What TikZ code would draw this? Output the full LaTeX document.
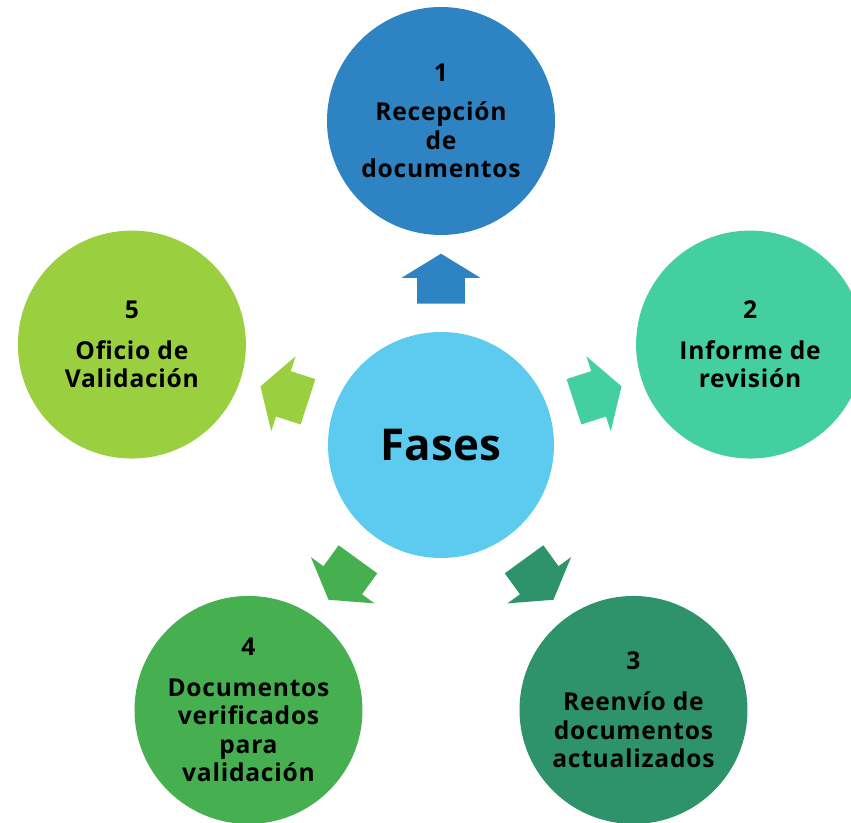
\documentclass[tikz,border=0pt]{standalone}
\usepackage{fontspec}
\setmainfont{Open Sans}
\usetikzlibrary{shapes.arrows}

\definecolor{cazul}{RGB}{46,131,194}
\definecolor{cturq}{RGB}{68,207,160}
\definecolor{cverdeosc}{RGB}{46,147,106}
\definecolor{cverde}{RGB}{70,176,80}
\definecolor{clima}{RGB}{154,207,64}
\definecolor{ccielo}{RGB}{93,202,240}

\begin{document}
\begin{tikzpicture}[
	fase/.style={circle, minimum size=4.56cm, inner sep=0pt, align=center,
		font=\fontsize{14}{16.2}\selectfont\bfseries\addfontfeatures{LetterSpace=3}},
	flecha/.style={single arrow, minimum height=1cm, inner xsep=0pt, inner ysep=0.47cm,
		single arrow head extend=0.31cm, single arrow tip angle=117}
	]
	\clip (-8.82,8.9) rectangle (8.2,-7.56);
	% centro
	\node[circle, fill=ccielo, minimum size=4.52cm] (fases) at (0,0)
		{\fontsize{25}{30}\selectfont\bfseries Fases};
	% fases
	\node[fase, fill=cazul] (recepcion) at (90:6.48)
		{1\\[6pt]Recepción\\de\\documentos};
	\node[fase, fill=cturq] (informe) at (18:6.5)
		{2\\[7pt]Informe de\\revisión};
	\node[fase, fill=cverdeosc] (reenvio) at (-54:6.55)
		{3\\[7pt]Reenvío de\\documentos\\actualizados};
	\node[fase, fill=cverde] (verificados) at (-126:6.55)
		{4\\[7pt]Documentos\\verificados\\para\\validación};
	\node[fase, fill=clima] (oficio) at (162:6.5)
		{5\\[7pt]Oficio de\\Validación};
	% flechas
	\node[flecha, fill=cazul, rotate=90] (a1) at (90:3.18) {};
	\node[flecha, fill=cturq, rotate=18] (a2) at (18:3.15) {};
	\node[flecha, fill=cverdeosc, rotate=-54] (a3) at (-54:3.18) {};
	\node[flecha, fill=cverde, rotate=-126] (a4) at (-126:3.18) {};
	\node[flecha, fill=clima, rotate=162] (a5) at (162:3.15) {};
\end{tikzpicture}
\end{document}
